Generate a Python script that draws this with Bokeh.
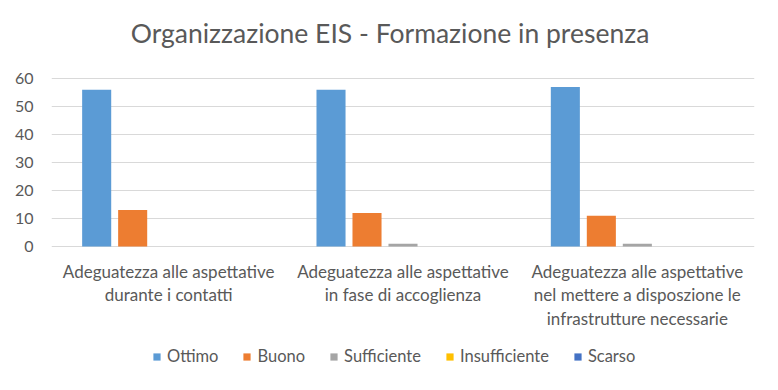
from bokeh.plotting import figure
from bokeh.models import FactorRange, Legend, LegendItem, FixedTicker, Range1d
from bokeh.core.properties import value
from bokeh.transform import dodge
from bokeh.embed import file_html
from bokeh.resources import INLINE

title_text = "Organizzazione EIS - Formazione in presenza"
categories = [
    "Adeguatezza alle aspettative\ndurante i contatti",
    "Adeguatezza alle aspettative\nin fase di accoglienza",
    "Adeguatezza alle aspettative\nnel mettere a disposzione le\ninfrastrutture necessarie",
]
series = ["Ottimo", "Buono", "Sufficiente", "Insufficiente", "Scarso"]
ottimo = [56, 56, 57]
buono = [13, 12, 11]
sufficiente = [0, 1, 1]
insufficiente = [0, 0, 0]
scarso = [0, 0, 0]
colors = ["#5B9BD5", "#ED7D31", "#A5A5A5", "#FFC000", "#4472C4"]
y_ticks = [0, 10, 20, 30, 40, 50, 60]

data = {"cat": categories, "Ottimo": ottimo, "Buono": buono,
        "Sufficiente": sufficiente, "Insufficiente": insufficiente, "Scarso": scarso}

FONT = "Lato"
GRAY = "#595959"

# layout in pixels: plot area 0..60 spans 168 px, 78 px of room above, 136 px below
PPU = 168 / 60
y_lo = -136 / PPU
y_hi = 60 + 78 / PPU

p = figure(x_range=FactorRange(factors=categories, range_padding=0),
           y_range=Range1d(y_lo, y_hi), frame_width=703, frame_height=382,
           output_backend="svg", toolbar_location=None,
           min_border_left=51, min_border_right=16, min_border_top=0, min_border_bottom=0,
           background_fill_color="white", border_fill_color="white")
p.outline_line_color = None
p.xaxis.visible = False

step = 0.1536
items = []
for j, s in enumerate(series):
    r = p.vbar(x=dodge("cat", (j - 2) * step, range=p.x_range), top=s, width=0.124,
               source=data, fill_color=colors[j], line_color=None)
    items.append(LegendItem(label=s, renderers=[r]))

# title
p.text(x=[categories[1]], y=[y_ticks[-1]], text=[title_text], x_offset=-13, y_offset=-46,
       text_align="center", text_baseline="middle", text_font=value(FONT),
       text_font_size="26.5px", text_color=GRAY)

# category labels
p.text(x=categories, y=[y_ticks[0]] * len(categories), text=categories, y_offset=14,
       text_align="center", text_baseline="top", text_font=value(FONT),
       text_font_size="17px", text_color=GRAY, text_line_height=1.13)

p.yaxis.ticker = FixedTicker(ticks=y_ticks)
p.yaxis.axis_line_color = None
p.yaxis.major_tick_line_color = None
p.yaxis.minor_tick_line_color = None
p.yaxis.major_label_standoff = 12
p.yaxis.major_label_text_font = FONT
p.yaxis.major_label_text_font_size = "16px"
p.yaxis.major_label_text_color = GRAY

p.xgrid.grid_line_color = None
p.ygrid.grid_line_color = "#D9D9D9"
p.ygrid.grid_line_width = 1

legend = Legend(items=items, orientation="horizontal", location=(101, 16),
                glyph_width=9, glyph_height=9, label_standoff=6, spacing=24,
                label_text_font=FONT, label_text_font_size="16.5px", label_text_color=GRAY,
                border_line_color=None, background_fill_alpha=0, margin=0, padding=0)
p.add_layout(legend, "center")

open("out.html", "w").write(file_html(p, INLINE))
